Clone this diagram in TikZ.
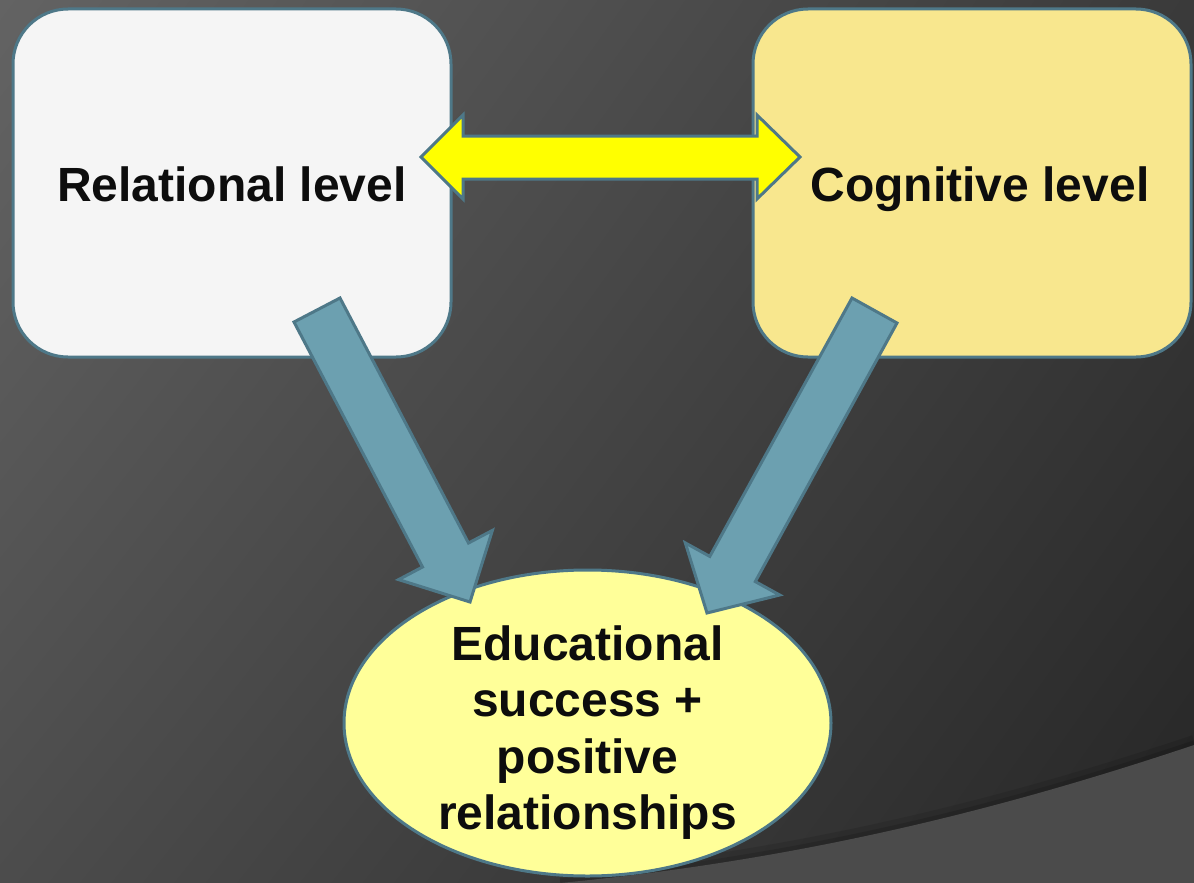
\documentclass[tikz,border=0pt]{standalone}
\usepackage{fontspec}
\setmainfont{Liberation Sans}
\usetikzlibrary{shapes.geometric,shadings}

\definecolor{edgeteal}{HTML}{4E7888}
\definecolor{arrowblue}{HTML}{6CA0B0}
\definecolor{paperwhite}{HTML}{F5F5F5}
\definecolor{sand}{HTML}{F8E78E}
\definecolor{paleyellow}{HTML}{FFFF99}
\definecolor{inkblack}{HTML}{0D0D0D}
\definecolor{brightyellow}{HTML}{FFFF00}
\definecolor{bgul}{HTML}{636363}
\definecolor{bgur}{HTML}{3A3A3A}
\definecolor{bgll}{HTML}{4C4C4C}
\definecolor{bglr}{HTML}{262626}
\definecolor{swoosh}{HTML}{4B4B4B}

\tikzset{
  levelbox/.style={draw=edgeteal, line width=3pt, rounded corners=55pt,
    minimum width=438pt, minimum height=348pt, inner sep=0pt},
  bigtext/.style={font=\fontsize{48}{56.3}\selectfont\bfseries, text=inkblack, inner sep=0pt},
  blockarrow/.style={draw=edgeteal, line width=3pt, line join=miter},
}

\begin{document}
\begin{tikzpicture}[x=1pt, y=-1pt]
  \useasboundingbox (0,0) rectangle (1194,883);

  % dark slide background with its lighter swoosh at the lower right
  \shade[upper left=bgul, upper right=bgur, lower left=bgll, lower right=bglr]
    (0,0) rectangle (1194,883);
  \draw[black, opacity=0.10, line width=12pt]
    (560,879) .. controls (800,856) and (1000,806) .. (1194,741);
  \draw[black, opacity=0.12, line width=5pt]
    (560,881) .. controls (800,858) and (1000,808) .. (1194,743);
  \fill[swoosh]
    (560,883) .. controls (800,860) and (1000,810) .. (1194,745) -- (1194,883) -- cycle;

  % the two levels
  \node[levelbox, fill=paperwhite] (rel) at (232,183) {};
  \node[levelbox, fill=sand] (cog) at (972,183) {};
  \node[bigtext, anchor=base] (reltext) at (232,201) {Relational level};
  \node[bigtext, anchor=base] (cogtext) at (980,201) {Cognitive level};

  % the outcome
  \node[ellipse, draw=edgeteal, line width=3pt, fill=paleyellow,
        minimum width=487pt, minimum height=306pt, inner sep=0pt] (goal) at (587.5,723) {};
  \node[bigtext, align=center, anchor=north] (goaltext) at (587.5,625.5)
    {Educational\\success +\\positive\\relationships};

  % two-way link between the levels
  \fill[brightyellow, blockarrow]
    (421,157) -- (463,115) -- (463,136) -- (757,136) -- (757,115) -- (800,157)
    -- (757,199) -- (757,179) -- (463,179) -- (463,199) -- cycle;

  % each level feeds the outcome
  \fill[arrowblue, blockarrow]
    (294,322) -- (340,298) -- (468.5,543) -- (492.4,530.4) -- (470,602)
    -- (398.6,579.6) -- (422.5,567) -- cycle;
  \fill[arrowblue, blockarrow]
    (852,298) -- (897,323) -- (755.3,581.6) -- (779.7,595) -- (707,613)
    -- (685.3,542.9) -- (709.8,556.4) -- cycle;
\end{tikzpicture}
\end{document}
